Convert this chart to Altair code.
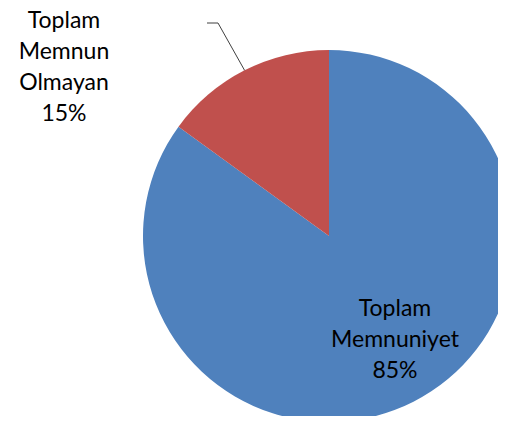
import altair as alt
import pandas as pd
import numpy as np

categories = ["Toplam Memnuniyet", "Toplam Memnun Olmayan"]
values = [85, 15]
colors = ["#4F81BD", "#C0504D"]
label_lines = [["Toplam", "Memnuniyet"], ["Toplam", "Memnun", "Olmayan"]]

W, H = 490, 408
CX, CY, R = 321, 228, 186

total = sum(values)
pcts = [round(v * 100 / total) for v in values]
texts = ["\n".join(lines + [f"{p}%"]) for lines, p in zip(label_lines, pcts)]

df = pd.DataFrame({"category": categories, "value": values, "idx": range(len(values)), "label": texts})

pie = alt.Chart(df).mark_arc(outerRadius=R).encode(
    theta=alt.Theta("value:Q", stack=True),
    color=alt.Color("category:N", scale=alt.Scale(domain=categories, range=colors), legend=None),
    order=alt.Order("idx:Q"),
    x=alt.value(CX),
    y=alt.value(CY),
)

# label positions (first line centre)
lab_x = [387, 56]
lab_y = [301, 13]
df_lab = df.assign(lx=lab_x, ly=lab_y)
labels = alt.Chart(df_lab).mark_text(
    font="Lato", fontSize=23, lineHeight=31, lineBreak="\n",
    align="center", baseline="middle", color="#000000"
).encode(
    x=alt.X("lx:Q", scale=None),
    y=alt.Y("ly:Q", scale=None),
    text="label:N",
)

# leader line for the small slice: from slice mid-angle on the edge to elbow
start = sum(values[:1])
mid_angle = (start + values[1] / 2) / total * 2 * np.pi
ex = CX + R * np.sin(mid_angle)
ey = CY - R * np.cos(mid_angle)
leader = pd.DataFrame({
    "px": [199, 210, ex],
    "py": [15, 15, ey],
    "o": [0, 1, 2],
})
line = alt.Chart(leader).mark_line(color="#404040", strokeWidth=1).encode(
    x=alt.X("px:Q", scale=None),
    y=alt.Y("py:Q", scale=None),
    order="o:Q",
)

chart = alt.layer(pie, line, labels).properties(
    width=W, height=H, padding=0, autosize=alt.AutoSizeParams(type="none")
).configure_view(stroke=None)

chart.save("out.html", embed_options={"renderer": "svg", "actions": False})
